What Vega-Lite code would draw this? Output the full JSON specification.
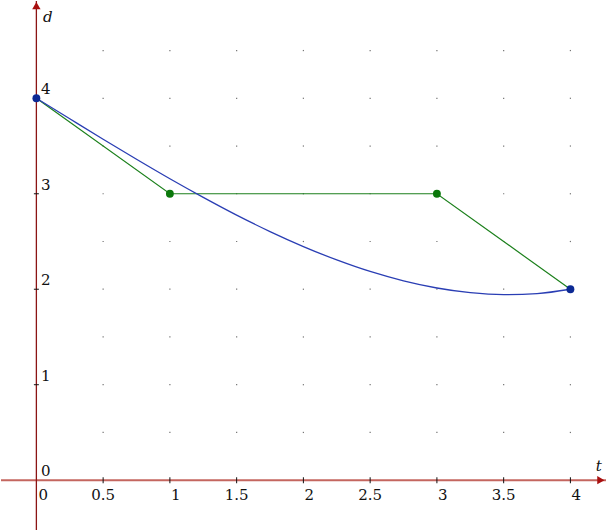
{
  "$schema": "https://vega.github.io/schema/vega-lite/v6.json",
  "width": 607,
  "height": 531,
  "autosize": {"type": "fit", "contains": "padding"},
  "padding": 0,
  "background": "white",
  "config": {"view": {"stroke": null}, "text": {"font": "DejaVu Serif"}},
  "data": {"values": [{}]},
  "datasets": {
    "grid": [
      {"t": 0.5, "d": [0.5, 1, 1.5, 2, 2.5, 3, 3.5, 4, 4.5]},
      {"t": 1, "d": [0.5, 1, 1.5, 2, 2.5, 3, 3.5, 4, 4.5]},
      {"t": 1.5, "d": [0.5, 1, 1.5, 2, 2.5, 3, 3.5, 4, 4.5]},
      {"t": 2, "d": [0.5, 1, 1.5, 2, 2.5, 3, 3.5, 4, 4.5]},
      {"t": 2.5, "d": [0.5, 1, 1.5, 2, 2.5, 3, 3.5, 4, 4.5]},
      {"t": 3, "d": [0.5, 1, 1.5, 2, 2.5, 3, 3.5, 4, 4.5]},
      {"t": 3.5, "d": [0.5, 1, 1.5, 2, 2.5, 3, 3.5, 4, 4.5]},
      {"t": 4, "d": [0.5, 1, 1.5, 2, 2.5, 3, 3.5, 4, 4.5]}
    ],
    "xticks": [
      {"t": 0.5, "label": "0.5", "whole": false},
      {"t": 1, "label": "1", "whole": true},
      {"t": 1.5, "label": "1.5", "whole": false},
      {"t": 2, "label": "2", "whole": true},
      {"t": 2.5, "label": "2.5", "whole": false},
      {"t": 3, "label": "3", "whole": true},
      {"t": 3.5, "label": "3.5", "whole": false},
      {"t": 4, "label": "4", "whole": true}
    ],
    "xzero": [{"t": 0, "label": "0"}],
    "yticks": [
      {"d": 0, "label": "0"},
      {"d": 1, "label": "1"},
      {"d": 2, "label": "2"},
      {"d": 3, "label": "3"},
      {"d": 4, "label": "4"}
    ],
    "polyline": [
      {"t": 0, "d": 4},
      {"t": 1, "d": 3},
      {"t": 3, "d": 3},
      {"t": 4, "d": 2}
    ],
    "curve": [
      {"t": 0, "d": 4},
      {"t": 0.25, "d": 3.785},
      {"t": 0.5, "d": 3.571},
      {"t": 0.75, "d": 3.361},
      {"t": 1, "d": 3.157},
      {"t": 1.25, "d": 2.962},
      {"t": 1.5, "d": 2.776},
      {"t": 1.75, "d": 2.604},
      {"t": 2, "d": 2.447},
      {"t": 2.25, "d": 2.307},
      {"t": 2.5, "d": 2.186},
      {"t": 2.75, "d": 2.088},
      {"t": 3, "d": 2.013},
      {"t": 3.25, "d": 1.964},
      {"t": 3.5, "d": 1.944},
      {"t": 3.75, "d": 1.955},
      {"t": 4, "d": 2}
    ],
    "greenpts": [
      {"t": 1, "d": 3},
      {"t": 3, "d": 3}
    ],
    "bluepts": [
      {"t": 0, "d": 4},
      {"t": 4, "d": 2}
    ]
  },
  "layer": [
    {
      "data": {"name": "grid"},
      "transform": [{"flatten": ["d"]}],
      "mark": {"type": "point", "shape": "square", "filled": true, "size": 1.5, "color": "#777777", "opacity": 1},
      "encoding": {
        "x": {"field": "t", "type": "quantitative", "scale": {"domain": [-0.265, 4.2666], "nice": false, "zero": false}, "axis": null},
        "y": {"field": "d", "type": "quantitative", "scale": {"domain": [-0.5218, 5.019], "nice": false, "zero": false}, "axis": null}
      }
    },
    {
      "mark": {"type": "rule", "color": "#c4665f", "strokeWidth": 2},
      "encoding": {
        "y": {"datum": 0, "type": "quantitative", "scale": {"domain": [-0.5218, 5.019], "nice": false, "zero": false}, "axis": null}
      }
    },
    {
      "mark": {"type": "rule", "color": "#8b1414", "strokeWidth": 1.3},
      "encoding": {
        "x": {"datum": 0, "type": "quantitative", "scale": {"domain": [-0.265, 4.2666], "nice": false, "zero": false}, "axis": null}
      }
    },
    {
      "data": {"name": "xticks"},
      "mark": {"type": "tick", "orient": "vertical", "size": 6, "thickness": 1, "color": "#111111", "opacity": 1},
      "encoding": {
        "x": {"field": "t", "type": "quantitative", "axis": null},
        "y": {"datum": 0, "type": "quantitative", "axis": null}
      }
    },
    {
      "data": {"name": "yticks"},
      "transform": [{"filter": "datum.d > 0"}],
      "mark": {"type": "tick", "orient": "horizontal", "size": 5, "thickness": 1, "color": "#111111", "opacity": 1},
      "encoding": {
        "x": {"datum": 0, "type": "quantitative", "axis": null},
        "y": {"field": "d", "type": "quantitative", "axis": null}
      }
    },
    {
      "mark": {"type": "point", "shape": "triangle-up", "filled": true, "size": 70, "color": "#a80f0f", "opacity": 1},
      "encoding": {
        "x": {"datum": 0, "type": "quantitative", "axis": null},
        "y": {"datum": 4.97, "type": "quantitative", "axis": null}
      }
    },
    {
      "mark": {"type": "point", "shape": "triangle-right", "filled": true, "size": 70, "color": "#a80f0f", "opacity": 1},
      "encoding": {
        "x": {"datum": 4.228, "type": "quantitative", "axis": null},
        "y": {"datum": 0, "type": "quantitative", "axis": null}
      }
    },
    {
      "data": {"name": "polyline"},
      "mark": {"type": "line", "color": "#1c801c", "strokeWidth": 1.2},
      "encoding": {
        "x": {"field": "t", "type": "quantitative", "axis": null},
        "y": {"field": "d", "type": "quantitative", "axis": null},
        "order": {"field": "t"}
      }
    },
    {
      "data": {"name": "curve"},
      "mark": {"type": "line", "color": "#2a3eb4", "strokeWidth": 1.3, "interpolate": "monotone"},
      "encoding": {
        "x": {"field": "t", "type": "quantitative", "axis": null},
        "y": {"field": "d", "type": "quantitative", "axis": null},
        "order": {"field": "t"}
      }
    },
    {
      "data": {"name": "greenpts"},
      "mark": {"type": "circle", "size": 62, "color": "#0b780b", "opacity": 1},
      "encoding": {
        "x": {"field": "t", "type": "quantitative", "axis": null},
        "y": {"field": "d", "type": "quantitative", "axis": null}
      }
    },
    {
      "data": {"name": "bluepts"},
      "mark": {"type": "circle", "size": 62, "color": "#0c2994", "opacity": 1},
      "encoding": {
        "x": {"field": "t", "type": "quantitative", "axis": null},
        "y": {"field": "d", "type": "quantitative", "axis": null}
      }
    },
    {
      "data": {"name": "xticks"},
      "transform": [{"filter": "datum.whole"}],
      "mark": {"type": "text", "font": "DejaVu Serif", "fontSize": 15, "align": "left", "baseline": "alphabetic", "dx": 1, "dy": 20, "color": "#111111"},
      "encoding": {
        "x": {"field": "t", "type": "quantitative", "axis": null},
        "y": {"datum": 0, "type": "quantitative", "axis": null},
        "text": {"field": "label"}
      }
    },
    {
      "data": {"name": "xzero"},
      "mark": {"type": "text", "font": "DejaVu Serif", "fontSize": 15, "align": "left", "baseline": "alphabetic", "dx": 2, "dy": 20, "color": "#111111"},
      "encoding": {
        "x": {"field": "t", "type": "quantitative", "axis": null},
        "y": {"datum": 0, "type": "quantitative", "axis": null},
        "text": {"field": "label"}
      }
    },
    {
      "data": {"name": "xticks"},
      "transform": [{"filter": "!datum.whole"}],
      "mark": {"type": "text", "font": "DejaVu Serif", "fontSize": 15, "align": "center", "baseline": "alphabetic", "dy": 20, "color": "#111111"},
      "encoding": {
        "x": {"field": "t", "type": "quantitative", "axis": null},
        "y": {"datum": 0, "type": "quantitative", "axis": null},
        "text": {"field": "label"}
      }
    },
    {
      "data": {"name": "yticks"},
      "mark": {"type": "text", "font": "DejaVu Serif", "fontSize": 15, "align": "left", "baseline": "alphabetic", "dx": 4.5, "dy": -4, "color": "#111111"},
      "encoding": {
        "x": {"datum": 0, "type": "quantitative", "axis": null},
        "y": {"field": "d", "type": "quantitative", "axis": null},
        "text": {"field": "label"}
      }
    },
    {
      "mark": {"type": "text", "text": "d", "font": "DejaVu Serif", "fontStyle": "italic", "fontSize": 15, "align": "left", "baseline": "alphabetic", "dx": 6.5, "color": "#111111"},
      "encoding": {
        "x": {"datum": 0, "type": "quantitative", "axis": null},
        "y": {"datum": 4.795, "type": "quantitative", "axis": null}
      }
    },
    {
      "mark": {"type": "text", "text": "t", "font": "DejaVu Serif", "fontStyle": "italic", "fontSize": 15, "align": "left", "baseline": "alphabetic", "dy": -9.5, "color": "#111111"},
      "encoding": {
        "x": {"datum": 4.19, "type": "quantitative", "axis": null},
        "y": {"datum": 0, "type": "quantitative", "axis": null}
      }
    }
  ]
}
